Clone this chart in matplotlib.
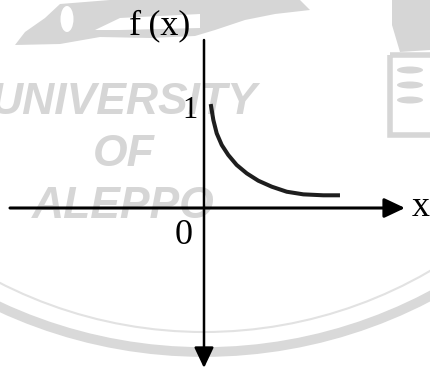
import matplotlib.pyplot as plt
from matplotlib.patches import Arc, Polygon, Ellipse, Rectangle

# f(x) sampled off the decaying curve (x >= 0)
curve_x = [0.064, 0.089, 0.121, 0.169, 0.231, 0.311, 0.407, 0.517,
           0.645, 0.788, 0.946, 1.136, 1.295]
curve_y = [0.990, 0.838, 0.711, 0.600, 0.505, 0.410, 0.330, 0.260,
           0.203, 0.155, 0.130, 0.121, 0.121]

watermark_lines = ['UNIVERSITY', 'OF', 'ALEPPO']

W, H, DPI = 430, 371, 100
ox, oy, unit = 204, 208, 105   # origin in pixels and pixels per unit

fig = plt.figure(figsize=(W / DPI, H / DPI), dpi=DPI)

# background watermark, drawn in pixel coordinates
bg = fig.add_axes([0, 0, 1, 1])
bg.set_xlim(0, W)
bg.set_ylim(H, 0)
bg.axis('off')
grey = '#d6d6d6'
for txt, (tx, ty) in zip(watermark_lines, [(124, 102), (124, 154), (123, 206)]):
    bg.text(tx, ty, txt, ha='center', va='center', fontsize=32,
            fontweight='bold', style='italic', family='Liberation Sans', color=grey)
bg.add_patch(Arc((204, -117), 898, 898, theta1=50, theta2=130, color='#e2e2e2', lw=1.5))
bg.add_patch(Arc((204, -133), 970, 970, theta1=50, theta2=130, color='#d9d9d9', lw=7))
# tree of the logo along the top
bg.add_patch(Polygon([(15, 45), (25, 32), (45, 18), (60, 4), (110, 0), (300, 0),
                      (310, 10), (275, 14), (245, 20), (215, 30), (195, 36),
                      (150, 38), (100, 37), (60, 44)], closed=True, color=grey, lw=0))
bg.add_patch(Ellipse((67, 19), 13, 26, color='white', lw=0))
bg.add_patch(Polygon([(95, 30), (120, 18), (200, 14), (200, 28), (120, 30)],
                     closed=True, color='white', lw=0))
# figure on the right of the logo
bg.add_patch(Rectangle((390, 55), 50, 80, fill=False, ec=grey, lw=4))
bg.add_patch(Polygon([(392, 0), (430, 0), (430, 50), (400, 52), (392, 25)],
                     closed=True, color=grey, lw=0))
for yy in (70, 85, 100):
    bg.add_patch(Ellipse((410, yy), 26, 7, color=grey, lw=0))

# the graph itself, in units with the origin where the axes cross
ax = fig.add_axes([0, 0, 1, 1])
ax.patch.set_alpha(0)
ax.set_xlim(-ox / unit, (W - ox) / unit)
ax.set_ylim(-(H - oy) / unit, oy / unit)
ax.axis('off')

head = '-|>,head_length=1.8,head_width=0.85'
ax.annotate('', xy=((405 - ox) / unit, 0), xytext=((10 - ox) / unit, 0),
            arrowprops=dict(arrowstyle=head, lw=2.2, color='black',
                            shrinkA=0, shrinkB=0, mutation_scale=7))
ax.annotate('', xy=(0, -(368 - oy) / unit), xytext=(0, (oy - 40) / unit),
            arrowprops=dict(arrowstyle=head, lw=1.8, color='black',
                            shrinkA=0, shrinkB=0, mutation_scale=7))

ax.plot(curve_x, curve_y, color='#1e1e1e', lw=2.9, solid_capstyle='butt')

serif = 'Liberation Serif'
ax.text((160 - ox) / unit, (oy - 26) / unit, 'f\u2009(x)', ha='center', va='center',
        fontsize=26, family=serif)
ax.text((190 - ox) / unit, (oy - 111) / unit, '1', ha='center', va='center',
        fontsize=22, family=serif)
ax.text((184 - ox) / unit, (oy - 235) / unit, '0', ha='center', va='center',
        fontsize=26, family=serif)
ax.text((421 - ox) / unit, (oy - 208) / unit, 'x', ha='center', va='center',
        fontsize=26, family=serif)

fig.savefig('out.png', dpi=DPI)
